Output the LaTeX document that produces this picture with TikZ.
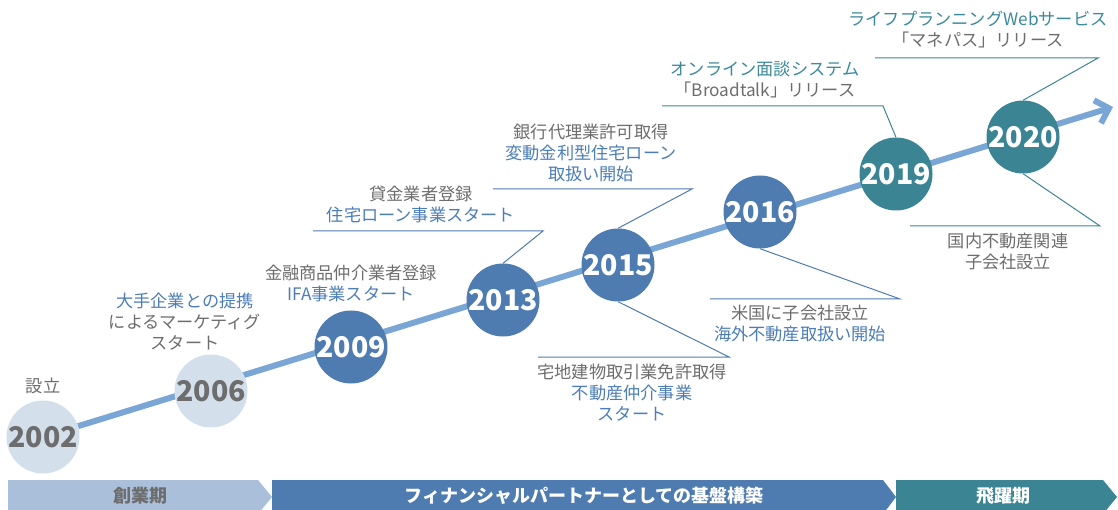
\documentclass[tikz,border=0pt]{standalone}
\usepackage{fontspec}
\setmainfont{Noto Sans CJK JP}
\usetikzlibrary{arrows.meta, backgrounds, positioning}
\definecolor{txtgray}{HTML}{6D6D6D}
\definecolor{txtblue}{HTML}{4C7DB7}
\definecolor{txtteal}{HTML}{3A8A9A}
\definecolor{paleblue}{HTML}{D3E0EC}
\definecolor{midblue}{HTML}{4E7BB0}
\definecolor{tealc}{HTML}{3B8494}
\definecolor{lineblue}{HTML}{7AA6D6}
\definecolor{barpale}{HTML}{A9BFDA}

\begin{document}
\begin{tikzpicture}[x=1pt, y=-1pt,
  year/.style={circle, minimum size=73pt, inner sep=0pt, font=\fontsize{28.5}{28.5}\selectfont\bfseries, text=white},
  early/.style={year, fill=paleblue, text=txtgray},
  mid/.style={year, fill=midblue},
  late/.style={year, fill=tealc},
  memo/.style={align=center, font=\fontsize{17.2}{21}\selectfont, text=txtgray, inner sep=0pt},
  blueline/.style={midblue, line width=1pt},
  tealline/.style={tealc, line width=1pt},
  phase/.style={font=\fontsize{18}{18}\selectfont\bfseries, text=white}]

\useasboundingbox (0,0) rectangle (1118,510);

\node[early] (y2002) at (43,437) {2002};
\node[early] (y2006) at (211,391) {2006};
\node[mid] (y2009) at (351,347) {2009};
\node[mid] (y2013) at (503,300) {2013};
\node[mid] (y2015) at (618,265) {2015};
\node[mid] (y2016) at (760,212) {2016};
\node[late] (y2019) at (896,174) {2019};
\node[late] (y2020) at (1023,137) {2020};

\coordinate (tip) at (1113,107);
\begin{scope}[on background layer]
\draw[line width=6pt, lineblue, -{Straight Barb[length=12pt,width=24pt]}] (y2002) -- (tip);
\end{scope}

\node[memo] (n2002) at (43,386) {設立};
\node[memo] (n2006) at (185,322) {\textcolor{txtblue}{大手企業との提携}\\によるマーケティグ\\スタート};
\node[memo] (n2009) at (351,283) {金融商品仲介業者登録\\\textcolor{txtblue}{IFA事業スタート}};
\node[memo] (n2013) at (421,204) {貸金業者登録\\\textcolor{txtblue}{住宅ローン事業スタート}};
\node[memo] (n2015a) at (591,153) {銀行代理業許可取得\\\textcolor{txtblue}{変動金利型住宅ローン}\\\textcolor{txtblue}{取扱い開始}};
\node[memo] (n2015b) at (632,393) {宅地建物取引業免許取得\\\textcolor{txtblue}{不動産仲介事業}\\\textcolor{txtblue}{スタート}};
\node[memo] (n2016) at (800,324) {米国に子会社設立\\\textcolor{txtblue}{海外不動産取扱い開始}};
\node[memo] (n2019) at (765,80) {\textcolor{txtteal}{オンライン面談システム}\\「Broadtalk」リリース};
\node[memo] (n2020a) at (978,30) {\textcolor{txtteal}{ライフプランニングWebサービス}\\「マネパス」リリース};
\node[memo] (n2020b) at (1008,251) {国内不動産関連\\子会社設立};

\coordinate (k2013) at (543,231);
\coordinate (e2013) at (313,231);
\coordinate (k2015a) at (692,189);
\coordinate (e2015a) at (493,189);
\coordinate (k2015b) at (729,357);
\coordinate (e2015b) at (538,357);
\coordinate (k2016) at (900,299);
\coordinate (e2016) at (710,299);
\coordinate (k2019) at (883,106);
\coordinate (e2019) at (662,106);
\coordinate (k2020a) at (1098,58);
\coordinate (e2020a) at (875,58);
\coordinate (k2020b) at (1100,226);
\coordinate (e2020b) at (910,226);

\draw[blueline] (y2013.north) -- (k2013) -- (e2013);
\draw[blueline] (y2015.north) -- (k2015a) -- (e2015a);
\draw[blueline] (y2015.south) -- (k2015b) -- (e2015b);
\draw[blueline] (y2016.south) -- (k2016) -- (e2016);
\draw[tealline] (y2019.north) -- (k2019) -- (e2019);
\draw[tealline] (y2020.north) -- (k2020a) -- (e2020a);
\draw[tealline] (y2020.south) -- (k2020b) -- (e2020b);

\begin{scope}
\clip (0,0) rectangle (1118,510);
\fill[barpale] (8,480) -- (258,480) -- (272,497) -- (258,514) -- (8,514) -- cycle;
\fill[midblue] (272,480) -- (883,480) -- (896,497) -- (883,514) -- (272,514) -- cycle;
\fill[tealc] (896,480) -- (1103,480) -- (1117,497) -- (1103,514) -- (896,514) -- cycle;
\end{scope}
\node[phase, text=txtgray] (p1) at (140,496) {創業期};
\node[phase] (p2) at (584,496) {フィナンシャルパートナーとしての基盤構築};
\node[phase] (p3) at (1003,496) {飛躍期};

\end{tikzpicture}
\end{document}
